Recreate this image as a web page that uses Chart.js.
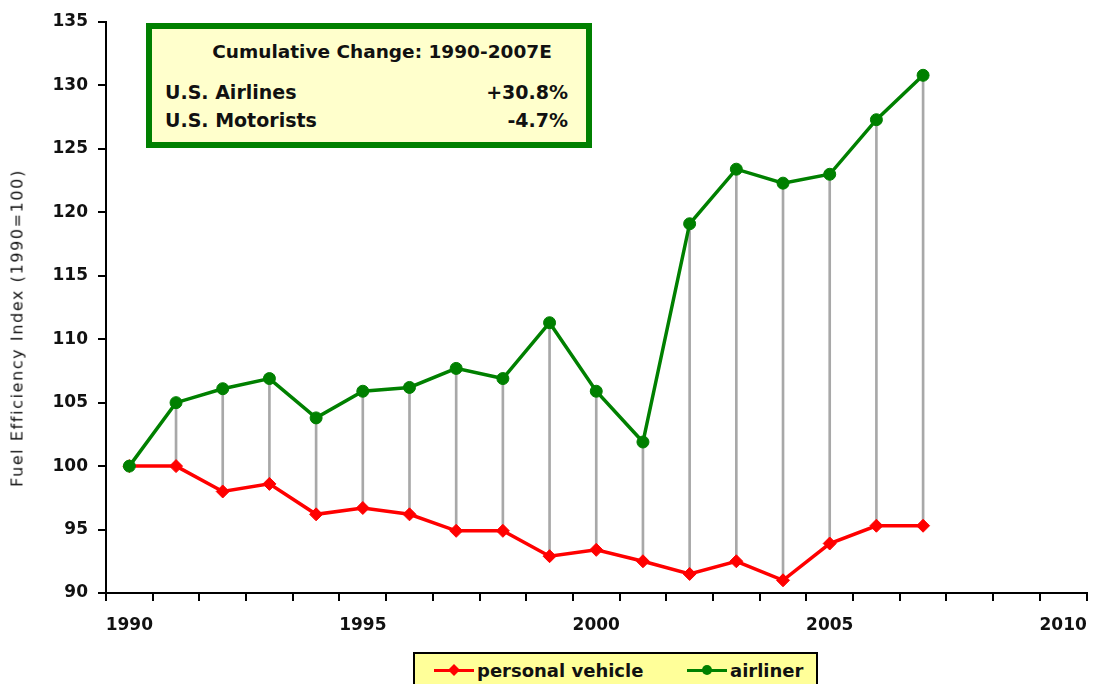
<!DOCTYPE html>
<html>
<head>
<meta charset="utf-8">
<script src="https://cdn.jsdelivr.net/npm/chart.js@4/dist/chart.umd.min.js"></script>
<style>
  body { margin: 0; background: #fff; font-family: 'DejaVu Sans', sans-serif; color: #111; }
  #wrap { position: relative; width: 1095px; height: 684px; overflow: hidden; }
  #chart { position: absolute; left: 0; top: 0; }
  #yTitle {
    position: absolute; left: 17px; top: 328px; white-space: nowrap;
    font-size: 16px; letter-spacing: 1.6px;
    transform: translate(-50%, -50%) rotate(-90deg);
  }
  #note {
    position: absolute; left: 146px; top: 23px; width: 446px; height: 125px;
    box-sizing: border-box; border: 6px solid #008000; background: #ffffcc;
  }
  #note div { position: absolute; white-space: nowrap; line-height: 24px; }
  .note-title { left: 230px; top: 11px; transform: translateX(-50%); font-size: 18.5px; font-weight: bold; }
  .note-row { font-size: 19px; font-weight: bold; }
  #legend {
    position: absolute; left: 413px; top: 652px; width: 405px; height: 44px;
    box-sizing: border-box; border: 2px solid #000; background: #ffff99;
  }
  #legend .sample { position: absolute; top: 15px; width: 40px; height: 3px; }
  #legend .sample i { position: absolute; left: 15px; top: -4px; width: 10px; height: 10px; }
  #legend .label { position: absolute; top: 5px; font-size: 18px; font-weight: bold; line-height: 24px; white-space: nowrap; }
</style>
</head>
<body>
<div id="wrap">
  <canvas id="chart" style="width:1101px;height:684px"></canvas>
  <div id="yTitle">Fuel Efficiency Index (1990=100)</div>
  <div id="note">
    <div class="note-title">Cumulative Change: 1990-2007E</div>
    <div class="note-row" style="left:13px; top:51px;">U.S. Airlines</div>
    <div class="note-row" style="right:18px; top:51px;">+30.8%</div>
    <div class="note-row" style="left:13px; top:79px;">U.S. Motorists</div>
    <div class="note-row" style="right:18px; top:79px;">-4.7%</div>
  </div>
  <div id="legend"></div>
</div>
<script>
// categories: 1990 .. 2010 (data ends at 2007E)
var years = ['1990', '1991', '1992', '1993', '1994', '1995', '1996', '1997', '1998', '1999', '2000',
             '2001', '2002', '2003', '2004', '2005', '2006', '2007', '2008', '2009', '2010'];
var xTickLabels = ['1990', '1995', '2000', '2005', '2010'];

// fuel efficiency index, 1990 = 100
var personalVehicle = [100.0, 100.0, 98.0, 98.6, 96.2, 96.7, 96.2, 94.9, 94.9, 92.9,
                       93.4, 92.5, 91.5, 92.5, 91.0, 93.9, 95.3, 95.3];
var airliner = [100.0, 105.0, 106.1, 106.9, 103.8, 105.9, 106.2, 107.7, 106.9, 111.3,
                105.9, 101.9, 119.1, 123.4, 122.3, 123.0, 127.3, 130.8];

var RED = '#ff0000', GREEN = '#008000', INK = '#111';
var tickFont = { family: "'DejaVu Sans', sans-serif", size: 17, weight: 'bold' };

// grey drop lines between the two series, one per year
var gaps = airliner.map(function(a, i) { return [personalVehicle[i], a]; });

// legend box (HTML, below the plot)
var legendItems = [
  { label: 'personal vehicle', color: RED, shape: 'rotate(45deg) scale(0.85)', radius: '0', x: 19 },
  { label: 'airliner', color: GREEN, shape: 'none', radius: '50%', x: 272 }
];
document.getElementById('legend').innerHTML = legendItems.map(function(it) {
  return '<span class="sample" style="left:' + it.x + 'px;background:' + it.color + '">' +
         '<i style="background:' + it.color + ';transform:' + it.shape + ';border-radius:' + it.radius + '"></i></span>' +
         '<span class="label" style="left:' + (it.x + 43) + 'px">' + it.label + '</span>';
}).join('');

var ctx = document.getElementById('chart').getContext('2d');
new Chart(ctx, {
  data: {
    labels: years,
    datasets: [{
      type: 'line',
      label: 'airliner',
      data: airliner,
      borderColor: GREEN, backgroundColor: GREEN,
      borderWidth: 3.5, tension: 0,
      pointStyle: 'circle', pointRadius: 6, pointBorderWidth: 1,
      order: 1
    }, {
      type: 'line',
      label: 'personal vehicle',
      data: personalVehicle,
      borderColor: RED, backgroundColor: RED,
      borderWidth: 3.5, tension: 0,
      pointStyle: 'rectRot', pointRadius: 6.5, pointBorderWidth: 1,
      order: 2
    }, {
      type: 'bar',
      label: 'gap',
      data: gaps,
      backgroundColor: '#a8a8a8',
      borderWidth: 0, barThickness: 2,
      order: 3
    }]
  },
  options: {
    responsive: false, animation: false,
    layout: { padding: { left: 0, top: 22, right: 0, bottom: 41 } },
    plugins: { legend: { display: false }, tooltip: { enabled: false } },
    scales: {
      x: {
        type: 'category',
        offset: true,
        afterFit: function(s) { s.height = 50; },
        border: { color: '#000', width: 2 },
        grid: { offset: true, drawOnChartArea: false, tickLength: 8, color: '#000', lineWidth: 2 },
        ticks: {
          autoSkip: false, maxRotation: 0, padding: 14, color: INK, font: tickFont,
          callback: function(v, i) { return xTickLabels.indexOf(years[i]) >= 0 ? years[i] : ''; }
        }
      },
      y: {
        min: 90, max: 135,
        afterFit: function(s) { s.width = 106; },
        border: { color: '#000', width: 2 },
        grid: { drawOnChartArea: false, tickLength: 8, color: '#000', lineWidth: 2 },
        ticks: { stepSize: 5, padding: 10, color: INK, font: tickFont }
      }
    }
  }
});
</script>
</body>
</html>
